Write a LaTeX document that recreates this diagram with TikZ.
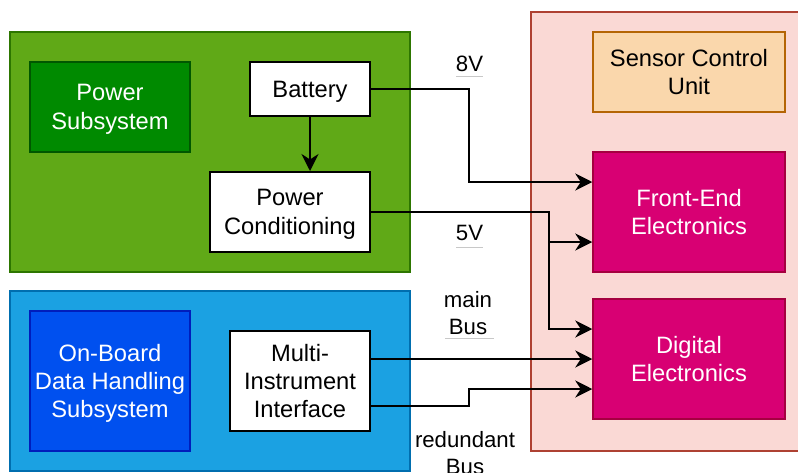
\documentclass[tikz,border=0pt]{standalone}
\usepackage{fontspec}
\setmainfont{Liberation Sans}
\usetikzlibrary{arrows.meta}
\definecolor{grfill}{HTML}{60A917}
\definecolor{grline}{HTML}{2D7600}
\definecolor{dgfill}{HTML}{008A00}
\definecolor{dgline}{HTML}{005700}
\definecolor{blfill}{HTML}{1BA1E2}
\definecolor{blline}{HTML}{006EAF}
\definecolor{dbfill}{HTML}{0050EF}
\definecolor{dbline}{HTML}{001DBC}
\definecolor{pkfill}{HTML}{FAD9D5}
\definecolor{pkline}{HTML}{AE4132}
\definecolor{orfill}{HTML}{FAD7AC}
\definecolor{orline}{HTML}{B46504}
\definecolor{mgfill}{HTML}{D80073}
\definecolor{mgline}{HTML}{A50040}
\definecolor{ulgrey}{HTML}{C8C8C8}
\begin{document}
\begin{tikzpicture}[x=1pt,y=-1pt,
  txt/.style={font=\fontsize{23.7}{28.4}\selectfont, align=center, inner sep=0pt},
  lbl/.style={font=\fontsize{22.2}{26.6}\selectfont, align=center, inner sep=0pt},
  cont/.style={draw, line width=1.5pt, inner sep=0pt},
  box/.style={txt, draw, line width=1.5pt, text depth=0pt},
  wbox/.style={box, fill=white, draw=black, line width=2pt, text=black},
  arr/.style={draw=black, line width=2pt, -{Stealth[length=17pt,width=17pt,inset=5.5pt]}},
  ul/.style={draw=ulgrey, line width=1pt}]
\useasboundingbox (0,0) rectangle (798,472);
% containers
\node[cont, fill=grfill, draw=grline, minimum width=400pt, minimum height=240pt] (green) at (210,152) {};
\node[cont, fill=blfill, draw=blline, minimum width=400pt, minimum height=180pt] (blue) at (210,381) {};
\node[cont, fill=pkfill, draw=pkline, minimum width=270pt, minimum height=439pt] (pink) at (666,231.5) {};
% inner boxes
\node[box, fill=dgfill, draw=dgline, text=white, minimum width=160pt, minimum height=90pt] (ps) at (110,107) {Power\\Subsystem};
\node[wbox, minimum width=120pt, minimum height=54pt] (bat) at (310,89) {Battery};
\node[wbox, minimum width=160pt, minimum height=80pt] (pc) at (290,212) {Power\\Conditioning};
\node[box, fill=dbfill, draw=dbline, text=white, minimum width=160pt, minimum height=140pt] (obdh) at (110,381) {On-Board\\Data Handling\\Subsystem};
\node[wbox, minimum width=140pt, minimum height=100pt] (mii) at (300,381) {Multi-\\Instrument\\Interface};
\node[box, fill=orfill, draw=orline, text=black, minimum width=192pt, minimum height=80pt] (scu) at (689,72) {Sensor Control\\Unit};
\node[box, fill=mgfill, draw=mgline, text=white, minimum width=192pt, minimum height=120pt] (fe) at (689,212) {Front-End\\Electronics};
\node[box, fill=mgfill, draw=mgline, text=white, minimum width=192pt, minimum height=120pt] (de) at (689,359) {Digital\\Electronics};
% helper coordinates
\coordinate (fe1) at ([yshift=30pt]fe.west);
\coordinate (fe3) at ([yshift=-30pt]fe.west);
\coordinate (de1) at ([yshift=30pt]de.west);
\coordinate (de3) at ([yshift=-30pt]de.west);
\coordinate (mii3) at (370,406);
\coordinate (j8) at (469,89);
\coordinate (j5) at (549,212);
\coordinate (jr) at (469,406);
% connectors
\draw[arr] (bat.south) -- (bat.south |- pc.north);
\draw[arr] (bat.east) -- (j8) |- (fe1);
\draw[arr] (pc.east) -- (j5) |- (fe3);
\draw[arr] (j5) |- (de1);
\draw[arr] (mii.east |- de.west) -- (de.west);
\draw[arr] (mii3) -- (jr) |- (de3);
% labels
\node[lbl] (l8) at (469.5,63.5) {8V};
\node[lbl] (l5) at (469.5,232.5) {5V};
\node[lbl] (lm) at (468,313) {main\\Bus};
\node[lbl] (lr) at (465,453) {redundant\\Bus};
\draw[ul] (456,76) -- (483,76);
\draw[ul] (456,247) -- (483,247);
\draw[ul] (445,338) -- (494,338);
\end{tikzpicture}
\end{document}
